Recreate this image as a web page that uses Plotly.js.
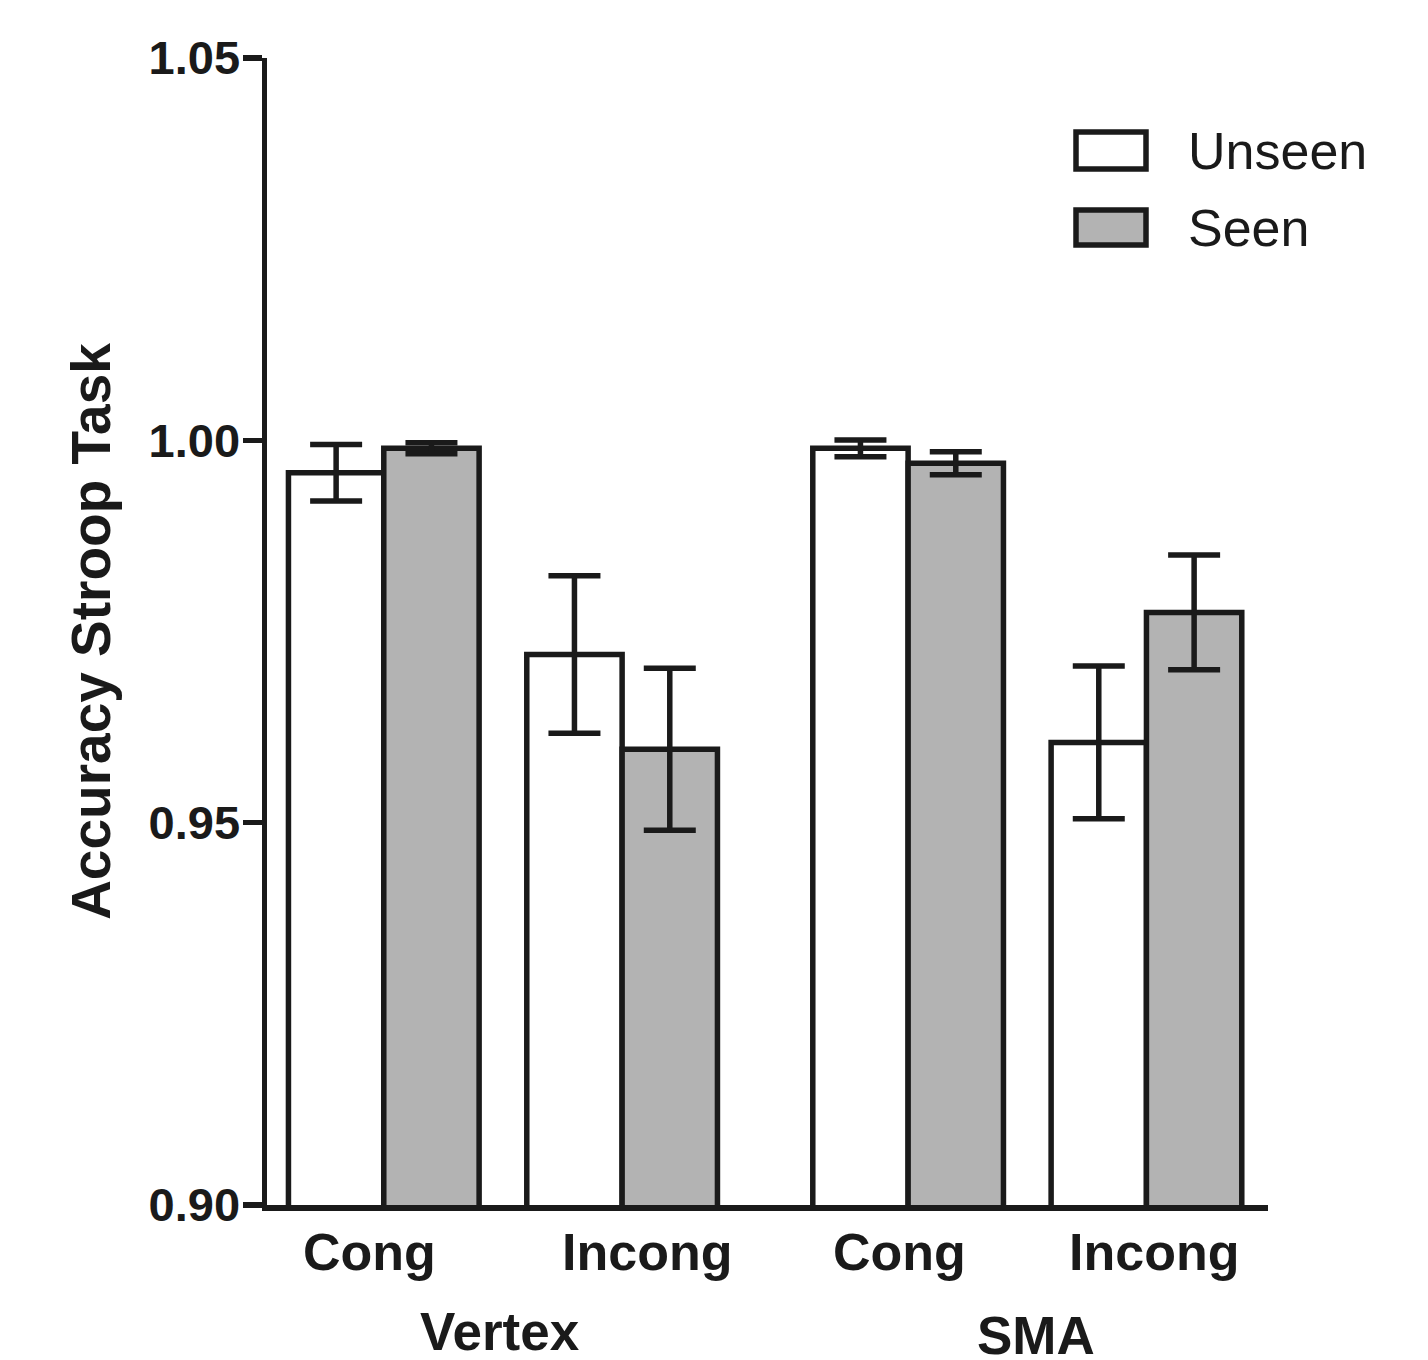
<!DOCTYPE html>
<html>
<head>
<meta charset="utf-8">
<script src="https://cdn.plot.ly/plotly-3.0.1.min.js"></script>
<style>html,body{margin:0;padding:0;background:#fff;}#chart{width:1428px;height:1360px;}</style>
</head>
<body>
<div id="chart"></div>
<script>
// ---- data ----
const categories = ["Cong", "Incong", "Cong", "Incong"];
const groups = ["Vertex", "Vertex", "SMA", "SMA"];
const seriesNames = ["Unseen", "Seen"];
const unseen = [0.99575, 0.9720, 0.99895, 0.9605];
const unseenErr = [0.0037, 0.0103, 0.0011, 0.0100];
const seen = [0.99895, 0.9596, 0.9970, 0.9775];
const seenErr = [0.00072, 0.0106, 0.0015, 0.0075];
const yTicks = [0.90, 0.95, 1.00, 1.05];
const yTickText = ["0.90", "0.95", "1.00", "1.05"];
const yTitle = "Accuracy Stroop Task";

// ---- layout helpers ----
const W = 1428, H = 1360;
const mL = 267, mR = 160, mT = 58, mB = 155;
const pw = W - mL - mR, ph = H - mT - mB;
const px2x = p => (p - mL) / pw;
const py2y = p => (H - mB - p) / ph;

const groupNames = [...new Set(groups)];
const groupGap = 0.2;
const pos = categories.map((c, i) => i + groupNames.indexOf(groups[i]) * groupGap);

const ink = "#1a1a1a";
const gray = "#b3b3b3";
const fontFam = "Liberation Sans, Arial, Helvetica, sans-serif";
const stroke = 5.5;

function barTrace(name, y, err, fill) {
  return {
    type: "bar", name: name, x: pos, y: y,
    marker: {color: fill, line: {color: ink, width: stroke}},
    error_y: {type: "data", array: err, visible: true, color: ink, thickness: stroke, width: 26},
    showlegend: false
  };
}

const traces = [
  barTrace(seriesNames[0], unseen, unseenErr, "#ffffff"),
  barTrace(seriesNames[1], seen, seenErr, gray)
];

const annotations = [];

// category labels (drawn as text under each bar pair, with the reference's small offsets)
const catShift = [-14, 25, -9, 8];
categories.forEach((c, i) => {
  annotations.push({
    x: pos[i], xref: "x", y: py2y(1252), yref: "paper", xshift: catShift[i],
    text: c, showarrow: false, xanchor: "center", yanchor: "middle",
    font: {family: fontFam, size: 52, color: ink, weight: "bold"}
  });
});

// group labels
const groupLabelY = {Vertex: 1331, SMA: 1335};
const groupShift = {Vertex: -3, SMA: 9};
groupNames.forEach(g => {
  const ps = pos.filter((p, i) => groups[i] === g);
  const cx = (Math.min(...ps) + Math.max(...ps)) / 2;
  annotations.push({
    x: cx, xref: "x", y: py2y(groupLabelY[g]), yref: "paper", xshift: groupShift[g],
    text: g, showarrow: false, xanchor: "center", yanchor: "middle",
    font: {family: fontFam, size: 53, color: ink, weight: "bold"}
  });
});

// manual legend
const shapes = [];
const legendBoxes = [
  {name: seriesNames[0], fill: "#ffffff", y0: 132, y1: 169, ty: 151},
  {name: seriesNames[1], fill: gray, y0: 210, y1: 245, ty: 228}
];
legendBoxes.forEach(b => {
  shapes.push({
    type: "rect", xref: "paper", yref: "paper",
    x0: px2x(1076), x1: px2x(1146), y0: py2y(b.y1), y1: py2y(b.y0),
    fillcolor: b.fill, line: {color: ink, width: 5.5}
  });
  annotations.push({
    x: px2x(1186), xref: "paper", y: py2y(b.ty), yref: "paper",
    text: b.name, showarrow: false, xanchor: "left", yanchor: "middle",
    font: {family: fontFam, size: 52, color: ink}
  });
});

const layout = {
  width: W, height: H,
  margin: {l: mL, r: mR, t: mT, b: mB, pad: 0},
  paper_bgcolor: "#ffffff", plot_bgcolor: "#ffffff",
  barmode: "group", bargap: 0.2, bargroupgap: 0,
  showlegend: false,
  xaxis: {
    range: [-0.49, 3.71], tickvals: pos, ticktext: categories, showticklabels: false,
    showgrid: false, zeroline: false, showline: true, linecolor: ink, linewidth: stroke,
    ticks: "", fixedrange: true
  },
  yaxis: {
    range: [0.90, 1.05], tickvals: yTicks, ticktext: yTickText,
    showgrid: false, zeroline: false, showline: true, linecolor: ink, linewidth: stroke,
    ticks: "outside", ticklen: 19, tickwidth: stroke, tickcolor: ink,
    ticklabelstandoff: -7,
    tickfont: {family: fontFam, size: 47, color: ink, weight: "bold"},
    title: {text: yTitle, font: {family: fontFam, size: 55, color: ink, weight: "bold"}, standoff: 22},
    fixedrange: true
  },
  annotations: annotations,
  shapes: shapes
};

Plotly.newPlot("chart", traces, layout, {displayModeBar: false, staticPlot: true});
</script>
</body>
</html>
